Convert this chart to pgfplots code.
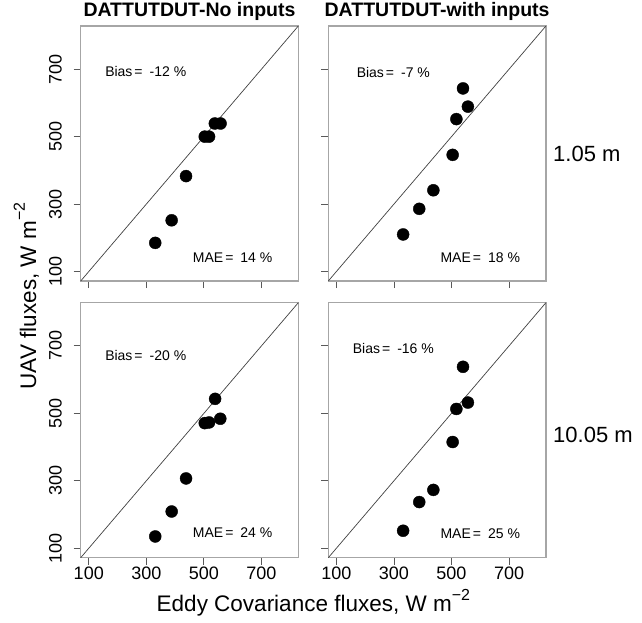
\documentclass[border=0pt]{standalone}
\usepackage{pgfplots}
\pgfplotsset{compat=1.18}
\usepackage{fontspec}
\setmainfont{Liberation Sans}

\pgfplotstableread{
x y
331 185
388 252
438 383
503 500
518 500
538 539
558 539
}\panelA
\pgfplotstableread{
x y
332 210
388 286
437 341
504 446
517 552
540 643
557 589
}\panelB
\pgfplotstableread{
x y
331 135
388 209
438 307
503 471
518 473
539 543
557 484
}\panelC
\pgfplotstableread{
x y
332 152
388 237
437 273
504 415
517 513
540 638
557 532
}\panelD

\newcommand{\fs}[1]{\fontsize{#1}{#1}\selectfont}
\newcommand{\supm}{\raisebox{0.5em}{\fs{16}−2}}

\pgfplotsset{
  panel/.style={
    scale only axis, width=217.6pt, height=255pt, anchor=south west,
    xmin=72, xmax=828, ymin=72, ymax=828,
    xtick={100,300,500,700}, ytick={100,300,500,700},
    xtick pos=bottom, ytick pos=left,
    tick align=outside, major tick length=7pt,
    axis line style={draw=gray!70, line width=1.4pt},
    tick style={draw=black!65, line width=0.8pt},
    /pgf/number format/assume math mode=true,
    xticklabel style={font=\fs{18}, inner sep=0pt, anchor=north},
    yticklabel style={font=\fs{18}, inner sep=0pt, rotate=90, anchor=south},
    xticklabel shift=1.8pt, yticklabel shift=11.7pt,
    title style={font=\fs{19.5}\bfseries, at={(0.5,1)}, anchor=base, yshift=3.3pt, inner sep=0pt},
    clip=false,
  },
  diag/.style={no marks, draw=black!75, line width=0.7pt},
  pts/.style={only marks, mark=*, mark size=6pt, black},
}

\begin{document}
\begin{tikzpicture}[x=1pt,y=1pt]
\path[use as bounding box] (0,0) rectangle (642,-622);

\begin{axis}[panel, at={(80.7pt,-281pt)}, xticklabels={}, title={DATTUTDUT-No inputs}]
\addplot[diag] coordinates {(72,72) (828,828)};
\addplot[pts] table[x=x,y=y] {\panelA};
\node[font=\fs{14}] at (axis cs:298,694) {Bias\kern2pt=\kern7pt-12 \%};
\node[font=\fs{14}] at (axis cs:600,142) {MAE\kern2pt=\kern7pt14 \%};
\end{axis}

\begin{axis}[panel, at={(328.3pt,-281pt)}, xticklabels={}, yticklabels={}, title={DATTUTDUT-with inputs}]
\addplot[diag] coordinates {(72,72) (828,828)};
\addplot[pts] table[x=x,y=y] {\panelB};
\node[font=\fs{14}] at (axis cs:298,690) {Bias\kern2pt=\kern7pt-7 \%};
\node[font=\fs{14}] at (axis cs:600,142) {MAE\kern2pt=\kern7pt18 \%};
\end{axis}

\begin{axis}[panel, at={(80.7pt,-557.7pt)}]
\addplot[diag] coordinates {(72,72) (828,828)};
\addplot[pts] table[x=x,y=y] {\panelC};
\node[font=\fs{14}] at (axis cs:298,671) {Bias\kern2pt=\kern7pt-20 \%};
\node[font=\fs{14}] at (axis cs:600,145) {MAE\kern2pt=\kern7pt24 \%};
\end{axis}

\begin{axis}[panel, at={(328.3pt,-557.7pt)}, yticklabels={}]
\addplot[diag] coordinates {(72,72) (828,828)};
\addplot[pts] table[x=x,y=y] {\panelD};
\node[font=\fs{14}] at (axis cs:298,692) {Bias\kern2pt=\kern7pt-16 \%};
\node[font=\fs{14}] at (axis cs:600,144) {MAE\kern2pt=\kern7pt25 \%};
\end{axis}

\node[anchor=west, font=\fs{22}, inner sep=0pt] at (553,-154) {1.05 m};
\node[anchor=west, font=\fs{22}, inner sep=0pt] at (553,-435) {10.05 m};
\node[anchor=base, font=\fs{22.5}, inner sep=0pt] at (313.4,-611.7) {Eddy Covariance fluxes, W m\supm};
\node[anchor=base, rotate=90, font=\fs{22.5}, inner sep=0pt] at (36,-296) {UAV fluxes, W m\supm};
\end{tikzpicture}
\end{document}
